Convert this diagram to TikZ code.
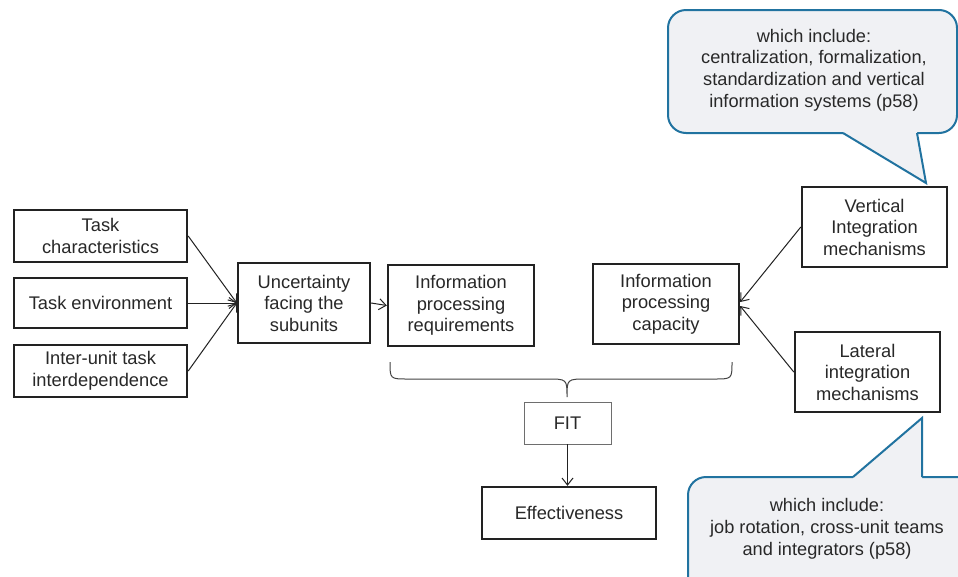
\documentclass[tikz,border=0pt]{standalone}
\usepackage{fontspec}
\setmainfont{Liberation Sans}
\usetikzlibrary{arrows.meta,calc}
\definecolor{boxline}{RGB}{34,34,34}
\definecolor{txt}{RGB}{40,40,40}
\definecolor{calloutline}{RGB}{33,115,160}
\definecolor{calloutfill}{RGB}{240,241,244}
\definecolor{fitline}{RGB}{110,110,110}
\tikzset{
  box/.style={draw=boxline, line width=2.4pt, text=txt, align=center, inner sep=0pt,
    font=\fontsize{18.3}{21.5}\selectfont},
  fitbox/.style={draw=fitline, line width=0.9pt, text=txt, align=center, inner sep=0pt,
    font=\fontsize{18.3}{21.5}\selectfont},
  conn/.style={draw=boxline, line width=1pt, -{Straight Barb[length=7pt,width=11pt]}},
  calloutshape/.style={draw=calloutline, fill=calloutfill, line width=2pt},
  callouttext/.style={text=txt, align=center, inner sep=0pt, font=\fontsize{18.2}{21.8}\selectfont},
  bracestyle/.style={draw=boxline!85, line width=1pt}
}
\begin{document}
\begin{tikzpicture}[x=1pt,y=-1pt]
\useasboundingbox (0,0) rectangle (958,576);
\clip (0,0) rectangle (958,576);
\fill[white] (0,0) rectangle (958,576);

% callouts
\draw[calloutshape, rounded corners=18pt] (668,10) rectangle (957,133);
\fill[calloutfill] (843,129) -- (843,133) -- (926,183) -- (917,133) -- (917,129) -- cycle;
\draw[calloutline, line width=2pt, line join=miter] (843,133) -- (926,183) -- (917,133);
\node[callouttext] (topnote) at (814,70) {which include:\\centralization, formalization,\\standardization and vertical\\information systems (p58)};

\draw[calloutshape, rounded corners=18pt] (688,477) rectangle (980,610);
\fill[calloutfill] (853,481) -- (853,477) -- (922,418) -- (922,481) -- cycle;
\draw[calloutline, line width=2pt, line join=miter] (853,477) -- (922,418) -- (922,477);
\node[callouttext] (botnote) at (827,529) {which include:\\job rotation, cross-unit teams\\and integrators (p58)};

% boxes
\node[box, minimum width=173pt, minimum height=52pt] (tc) at (100.5,236) {Task\\characteristics};
\node[box, minimum width=173pt, minimum height=50pt] (te) at (100.5,303) {Task environment};
\node[box, minimum width=173pt, minimum height=52pt] (iu) at (100.5,371) {Inter-unit task\\interdependence};
\node[box, minimum width=132pt, minimum height=80pt] (unc) at (304,303) {Uncertainty\\facing the\\subunits};
\node[box, minimum width=146pt, minimum height=81pt] (req) at (461,305.5) {Information\\processing\\requirements};
\node[box, minimum width=146pt, minimum height=80pt] (cap) at (666,304) {Information\\processing\\capacity};
\node[box, minimum width=145pt, minimum height=80pt] (vim) at (874.5,227) {Vertical\\Integration\\mechanisms};
\node[box, minimum width=145pt, minimum height=80pt] (lim) at (867.5,372) {Lateral\\integration\\mechanisms};
\node[fitbox, minimum width=87pt, minimum height=42pt] (fit) at (567.5,423) {FIT};
\node[box, minimum width=174pt, minimum height=52pt] (eff) at (569,513) {Effectiveness};

% connectors
\draw[conn] (tc.east) -- (unc.west);
\draw[conn] (te.east) -- (unc.west);
\draw[conn] (iu.east) -- (unc.west);
\draw[conn] (unc.east) -- (req.west);
\draw[conn] (vim.west) -- ($(cap.east)+(0,-2)$);
\draw[conn] (lim.west) -- ($(cap.east)+(0,2)$);
\draw[conn] (fit.south) -- (fit.south |- eff.north);

% brace
\draw[bracestyle] (390,362) .. controls (390,379) .. (408,379) -- (547,379)
  .. controls (567,379) .. (567,397) .. controls (567,379) .. (587,379)
  -- (714,379) .. controls (732,379) .. (732,362);
\end{tikzpicture}
\end{document}
